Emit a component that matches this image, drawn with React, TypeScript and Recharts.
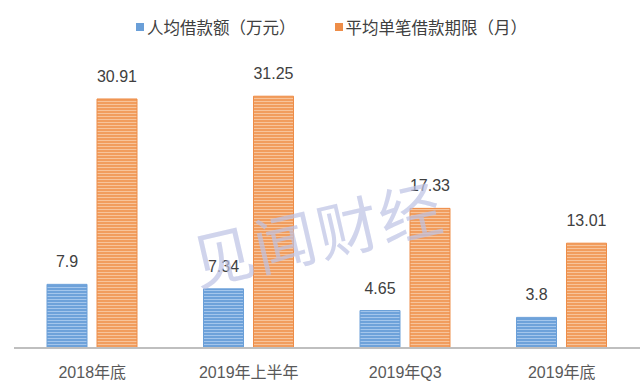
import React from 'react';
import { BarChart, Bar, XAxis, YAxis, LabelList } from 'recharts';

const categories = ['2018年底', '2019年上半年', '2019年Q3', '2019年底'];
const avgLoan = [7.9, 7.34, 4.65, 3.8];
const avgTerm = [30.91, 31.25, 17.33, 13.01];
const seriesNames = ['人均借款额（万元）', '平均单笔借款期限（月）'];

const data = categories.map((c, i) => ({ name: c, loan: avgLoan[i], term: avgTerm[i] }));

const FONT = '"Liberation Sans", "Noto Sans CJK SC", sans-serif';

const LegendContent = () => (
  <div style={{ position: 'absolute', left: 136, top: 17, display: 'flex', alignItems: 'center', fontFamily: '"Noto Sans CJK SC", sans-serif', fontSize: 16.5, lineHeight: '20px', color: '#404040' }}>
    <div style={{ display: 'flex', alignItems: 'center', marginRight: 39 }}>
      <span style={{ width: 8, height: 8, background: '#6A9FD8', display: 'inline-block', marginRight: 3 }} />
      <span>{seriesNames[0]}</span>
    </div>
    <div style={{ display: 'flex', alignItems: 'center' }}>
      <span style={{ width: 8, height: 8, background: '#EE8D48', display: 'inline-block', marginRight: 3 }} />
      <span>{seriesNames[1]}</span>
    </div>
  </div>
);

export default function App() {
  return (
    <div style={{ position: 'absolute', left: 0, top: 0, width: 640, height: 383, background: '#fff' }}>
      <BarChart width={640} height={383} data={data} margin={{ top: 66, right: 0, left: 14, bottom: 5 }} barSize={40} barGap={10}>
        <defs>
          <pattern id="blueStripe" patternUnits="userSpaceOnUse" width="4" height="3">
            <rect width="4" height="3" fill="#6EA2DA" />
            <rect y="2" width="4" height="1" fill="#A4C6EC" />
          </pattern>
          <pattern id="orangeStripe" patternUnits="userSpaceOnUse" width="4" height="3">
            <rect width="4" height="3" fill="#F19D5E" />
            <rect y="2" width="4" height="1" fill="#F7C49B" />
          </pattern>
        </defs>
        <XAxis dataKey="name" height={30} axisLine={{ stroke: '#BFBFBF', strokeWidth: 2 }} tickLine={false}
          tick={{ fill: '#595959', fontSize: 16, fontFamily: FONT }} tickMargin={13} />
        <YAxis hide domain={[0, 35]} />
        <Bar dataKey="loan" fill="url(#blueStripe)" stroke="#6A9FD8" strokeWidth={1} isAnimationActive={false}>
          <LabelList dataKey="loan" position="top" offset={17} fill="#404040" fontSize={16} fontFamily={FONT} />
        </Bar>
        <Bar dataKey="term" fill="url(#orangeStripe)" stroke="#EE8D48" strokeWidth={1} isAnimationActive={false}>
          <LabelList dataKey="term" position="top" offset={17} fill="#404040" fontSize={16} fontFamily={FONT} />
        </Bar>
      </BarChart>
      <LegendContent />
      <svg width={640} height={383} style={{ position: 'absolute', left: 0, top: 0, pointerEvents: 'none' }}>
        <text x={318} y={258} textAnchor="middle" transform="rotate(-13 318 238)"
          fontSize={62} fontFamily='"Noto Sans CJK SC", sans-serif' fill="#BCC2E4" fillOpacity={0.7} letterSpacing={2}>
          见闻财经
        </text>
      </svg>
    </div>
  );
}
